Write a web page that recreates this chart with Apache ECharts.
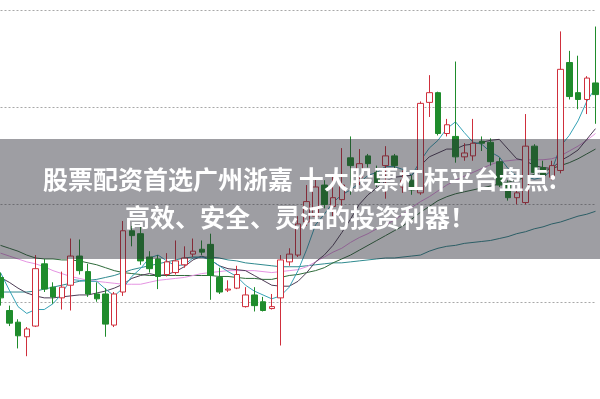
<!DOCTYPE html>
<html>
<head>
<meta charset="utf-8">
<script src="https://cdn.jsdelivr.net/npm/echarts@6/dist/echarts.min.js"></script>
<style>
html,body{margin:0;padding:0;background:#fff;}
#chart{width:600px;height:399px;}
</style>
</head>
<body>
<div id="chart"></div>
<script>
var categories = ['1','2','3','4','5','6','7','8','9','10','11','12','13','14','15','16','17','18','19','20','21','22','23','24','25','26','27','28','29','30','31','32','33','34','35','36','37','38','39','40','41','42','43','44','45','46','47','48','49','50','51','52','53','54','55','56','57','58','59','60','61','62','63','64','65','66','67','68','69'];
var openVals  = [10.25,9.91,9.79,9.64,9.75,10.39,10.15,10.04,10.17,10.47,10.31,10.08,10.08,9.76,10.10,10.73,10.70,10.46,10.44,10.28,10.30,10.38,10.49,10.54,10.59,10.25,10.12,10.14,9.95,10.07,10.00,9.93,10.04,10.41,10.48,10.82,10.88,11.20,10.98,11.05,11.48,11.28,11.50,11.33,11.40,11.50,11.18,11.25,11.12,12.05,12.15,11.73,11.70,11.49,11.50,11.65,11.64,11.44,11.20,11.07,11.02,11.60,11.38,11.28,11.35,12.46,12.15,12.08,12.25];
var closeVals = [10.04,9.78,9.65,9.72,10.34,10.13,10.05,10.15,10.47,10.32,10.08,10.03,9.77,10.08,10.73,10.68,10.42,10.34,10.26,10.41,10.42,10.45,10.52,10.51,10.27,10.10,10.13,10.28,10.07,9.96,9.91,9.95,10.43,10.49,10.80,11.03,11.18,11.00,11.07,11.20,11.40,11.42,11.42,11.22,11.50,11.40,11.25,11.15,12.04,12.15,11.73,11.82,11.49,11.53,11.63,11.63,11.44,11.20,11.07,11.12,11.60,11.33,11.30,11.40,12.39,12.11,12.08,12.30,12.13];
var lowVals   = [9.96,9.75,9.52,9.44,9.74,10.10,9.98,9.92,9.91,10.28,10.05,10.00,9.64,9.74,10.06,10.57,10.38,10.30,10.13,10.26,10.28,10.35,10.46,10.48,10.02,10.08,10.10,10.13,9.94,9.90,9.90,9.92,9.55,10.37,10.46,10.78,10.84,10.96,10.88,10.95,11.10,11.20,11.38,11.18,11.06,11.36,11.12,11.10,11.10,11.90,11.71,11.70,11.43,11.45,11.45,11.55,11.40,11.18,11.04,11.00,11.00,11.30,11.22,11.25,11.32,12.08,11.98,11.93,11.83];
var highVals  = [10.30,9.96,9.82,9.74,10.48,10.44,10.20,10.31,10.65,10.64,10.39,10.20,10.14,10.10,10.83,10.78,10.78,10.52,10.48,10.50,10.63,10.57,10.65,10.63,10.70,10.35,10.22,10.37,10.15,10.15,10.05,10.08,10.48,10.55,10.88,11.20,11.28,11.25,11.30,11.58,11.70,11.57,11.52,11.40,11.60,11.52,11.35,11.30,12.06,12.33,12.16,11.88,12.47,11.63,11.88,11.70,11.68,11.48,11.25,11.15,11.93,11.62,11.45,11.45,12.78,12.58,12.53,12.32,12.83];
var ma5  = [10.30,10.12,9.95,9.88,9.92,9.92,9.98,10.08,10.23,10.22,10.21,10.21,10.13,10.06,10.14,10.26,10.34,10.45,10.48,10.42,10.37,10.38,10.45,10.46,10.43,10.37,10.31,10.26,10.17,10.11,10.07,10.03,10.06,10.15,10.32,10.54,10.79,10.90,11.02,11.10,11.15,11.22,11.30,11.33,11.39,11.39,11.36,11.30,11.45,11.58,11.66,11.78,11.85,11.74,11.64,11.62,11.54,11.49,11.37,11.29,11.29,11.26,11.28,11.35,11.60,11.71,11.86,12.06,12.20];
var ma10 = [10.25,10.20,10.14,10.09,10.06,10.04,10.04,10.05,10.06,10.07,10.07,10.09,10.11,10.14,10.18,10.24,10.27,10.29,10.27,10.28,10.31,10.36,10.43,10.47,10.43,10.37,10.34,10.33,10.32,10.27,10.22,10.17,10.16,10.16,10.21,10.30,10.41,10.48,10.58,10.71,10.85,11.00,11.10,11.17,11.24,11.28,11.29,11.30,11.40,11.49,11.53,11.57,11.57,11.61,11.62,11.64,11.66,11.67,11.57,11.47,11.45,11.40,11.38,11.37,11.45,11.50,11.56,11.67,11.78];
var ma20 = [10.50,10.47,10.44,10.41,10.39,10.36,10.32,10.29,10.26,10.24,10.22,10.21,10.20,10.19,10.18,10.18,10.18,10.20,10.22,10.23,10.24,10.25,10.27,10.29,10.30,10.31,10.32,10.32,10.32,10.32,10.31,10.30,10.31,10.32,10.33,10.36,10.41,10.46,10.51,10.55,10.61,10.66,10.70,10.75,10.79,10.84,10.90,10.97,11.03,11.08,11.14,11.20,11.25,11.29,11.33,11.37,11.41,11.44,11.45,11.46,11.46,11.46,11.46,11.47,11.50,11.55,11.60,11.66,11.73];
var ma30 = [10.58,10.55,10.52,10.48,10.45,10.44,10.44,10.43,10.43,10.42,10.40,10.38,10.35,10.32,10.30,10.29,10.28,10.27,10.27,10.27,10.27,10.27,10.27,10.27,10.27,10.26,10.26,10.25,10.24,10.24,10.23,10.23,10.25,10.27,10.28,10.30,10.32,10.35,10.40,10.44,10.48,10.53,10.58,10.63,10.68,10.73,10.78,10.85,10.92,10.98,11.04,11.08,11.11,11.13,11.15,11.17,11.19,11.21,11.23,11.25,11.28,11.31,11.34,11.37,11.40,11.43,11.47,11.52,11.57];
var ma60 = [10.10,10.10,10.10,10.10,10.11,10.13,10.15,10.17,10.19,10.21,10.22,10.23,10.25,10.27,10.30,10.33,10.35,10.37,10.39,10.41,10.43,10.45,10.46,10.46,10.46,10.45,10.43,10.42,10.40,10.39,10.38,10.37,10.36,10.36,10.36,10.37,10.38,10.39,10.40,10.40,10.41,10.42,10.43,10.44,10.45,10.45,10.46,10.47,10.48,10.52,10.55,10.57,10.58,10.60,10.61,10.62,10.63,10.65,10.67,10.70,10.72,10.75,10.77,10.80,10.82,10.85,10.88,10.90,10.93];
var yTicks = [9, 10, 11, 12, 13];
var titleLines = ['股票配资首选广州浙嘉 十大股票杠杆平台盘点:', '高效、安全、灵活的投资利器！'];

var kData = openVals.map(function (o, i) { return [o, closeVals[i], lowVals[i], highVals[i]]; });

function maSeries(name, data, color) {
  return {
    name: name, type: 'line', data: data, symbol: 'none', smooth: false,
    lineStyle: { width: 1, color: color }, silent: true, z: 3, clip: false
  };
}

var chart = echarts.init(document.getElementById('chart'), null, { renderer: 'canvas' });
chart.setOption({
  animation: false,
  backgroundColor: '#ffffff',
  grid: { left: 0.5, top: 10, width: 595, height: 400, containLabel: false },
  xAxis: {
    type: 'category', data: categories, boundaryGap: false,
    axisLine: { show: false }, axisTick: { show: false }, axisLabel: { show: false }, splitLine: { show: false }
  },
  yAxis: {
    type: 'value', min: yTicks[0], max: yTicks[yTicks.length - 1], interval: 1,
    axisLine: { show: false }, axisTick: { show: false }, axisLabel: { show: false },
    splitLine: { show: true, lineStyle: { color: '#a8a8a8', width: 1, type: [2, 2] } }
  },
  series: [
    maSeries('MA60', ma60, '#2f8a8f'),
    maSeries('MA30', ma30, '#2e6b3a'),
    maSeries('MA20', ma20, '#e594e2'),
    maSeries('MA10', ma10, '#4e3d56'),
    maSeries('MA5', ma5, '#35a2b6'),
    {
      name: 'K', type: 'candlestick', data: kData, barWidth: 6, clip: false, z: 4,
      itemStyle: {
        color: '#ffffff', borderColor: '#cf2f3c',
        color0: '#1f8c2c', borderColor0: '#1f8c2c', borderWidth: 1
      }
    }
  ],
  graphic: [
    { type: 'rect', left: 0, top: 139, shape: { width: 600, height: 120 },
      style: { fill: 'rgba(40,40,50,0.45)' }, z: 100 },
    { type: 'text', left: 'center', top: 167, z: 101,
      style: { text: titleLines[0], fill: '#ffffff', font: 'bold 25px "Noto Sans CJK SC", sans-serif' } },
    { type: 'text', left: 'center', top: 205, z: 101,
      style: { text: titleLines[1], fill: '#ffffff', font: 'bold 25px "Noto Sans CJK SC", sans-serif' } }
  ]
});
</script>
</body>
</html>
